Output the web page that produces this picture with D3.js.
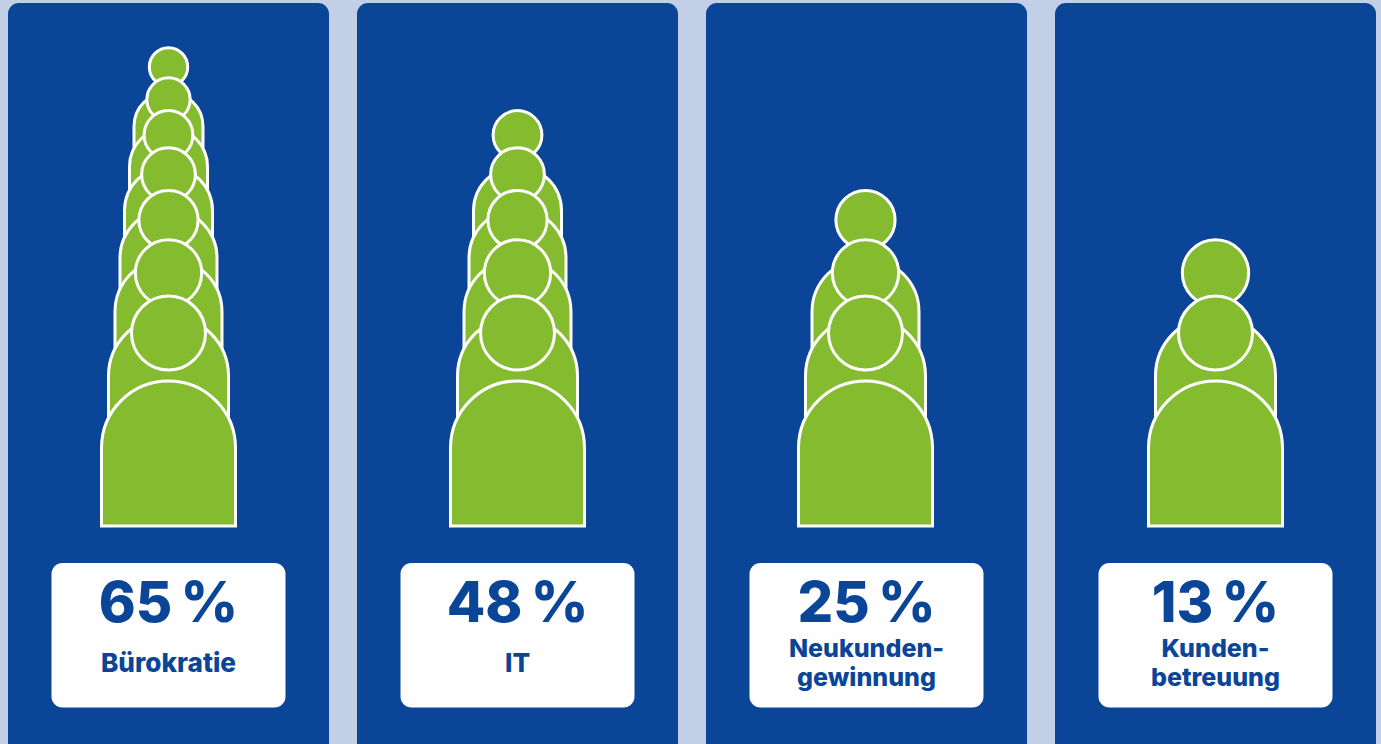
<!DOCTYPE html>
<html>
<head>
<meta charset="utf-8">
<script src="https://cdn.jsdelivr.net/npm/d3@7"></script>
<style>
  html, body { margin: 0; padding: 0; background: #c3cfe6; overflow: hidden; }
  text { font-family: "Inter", sans-serif; fill: #0a4598; text-anchor: middle; }
</style>
</head>
<body>
<div id="chart"></div>
<script>
const categories = ["Bürokratie", "IT", "Neukunden-gewinnung", "Kunden-betreuung"];
const values = [65, 48, 25, 13];
const personCounts = [7, 5, 3, 2];
const labelLines = [["Bürokratie"], ["IT"], ["Neukunden-", "gewinnung"], ["Kunden-", "betreuung"]];

const width = 1381;
const height = 744;

const svg = d3.select("#chart").append("svg")
  .attr("width", width)
  .attr("height", height)
  .style("display", "block");

// panel centres
const x = d3.scalePoint().domain(categories).range([168.5, 1215.5]);
// the third figure sits a pixel left of its panel centre
const figureX = d3.scaleOrdinal().domain(categories).range([0, 0, -1, 0]);

// each person further back is smaller and higher up
const ranks = d3.range(7);
const headY = d3.scaleOrdinal().domain(ranks).range([333, 273, 220, 174.5, 135, 99.5, 67]);
const bodyWidth = d3.scaleOrdinal().domain(ranks).range([135, 121, 108, 98, 89, 79, 70]);

function bodyPath(rank) {
  const w = bodyWidth(rank);
  const k = w / 135;
  const r = w / 2 - 0.5;
  const top = headY(rank) + 48 * k;
  const bottom = top + 145 * k;
  const p = d3.path();
  p.moveTo(-r, bottom);
  p.lineTo(-r, top + r);
  p.arc(0, top + r, r, Math.PI, 2 * Math.PI);
  p.lineTo(r, bottom);
  p.closePath();
  return p.toString();
}

const panels = svg.selectAll("g.panel")
  .data(categories)
  .join("g")
    .attr("class", "panel")
    .attr("transform", d => `translate(${x(d)},0)`);

panels.append("rect")
  .attr("x", -160.5)
  .attr("y", 3)
  .attr("width", 321)
  .attr("height", 760)
  .attr("rx", 11)
  .attr("fill", "#0a4598");

panels.each(function(d, i) {
  const g = d3.select(this);
  const figure = g.append("g").attr("transform", `translate(${figureX(d)},0)`);
  // back to front
  const people = d3.range(personCounts[i]).reverse();
  people.forEach(rank => {
    figure.append("path")
      .attr("d", bodyPath(rank))
      .attr("fill", "#85bb2f")
      .attr("stroke", "#fff")
      .attr("stroke-width", 3);
    figure.append("circle")
      .attr("cy", headY(rank))
      .attr("r", bodyWidth(rank) * 37 / 135)
      .attr("fill", "#85bb2f")
      .attr("stroke", "#fff")
      .attr("stroke-width", 3);
  });

  g.append("rect")
    .attr("x", -117)
    .attr("y", 563)
    .attr("width", 234)
    .attr("height", 144.5)
    .attr("rx", 11)
    .attr("fill", "#fff");

  g.append("text")
    .attr("y", 622)
    .attr("font-size", 56)
    .attr("font-weight", 800)
    .attr("word-spacing", -4)
    .text(values[i] + " %");

  const lines = labelLines[i];
  g.selectAll("text.label")
    .data(lines)
    .join("text")
      .attr("class", "label")
      .attr("y", (l, j) => lines.length === 1 ? 672 : 657 + j * 29)
      .attr("font-size", lines.length === 1 ? 26.2 : 25)
      .attr("font-weight", 800)
      .text(l => l);
});
</script>
</body>
</html>
